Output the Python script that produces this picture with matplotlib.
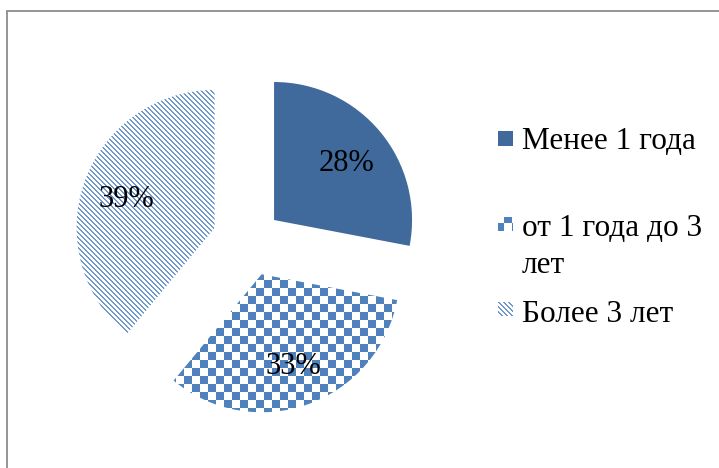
import numpy as np
import matplotlib
matplotlib.use("Agg")
import matplotlib.pyplot as plt
from matplotlib.patches import Rectangle

# Stazh categories and their shares (%)
labels = ["Менее 1 года", "от 1 года до 3\nлет", "Более 3 лет"]
shares = [28, 33, 39]

W, H = 719, 468
SOLID = "#40699C"
BLUE = "#4F81BD"
STRIPE = "#7099CD"

plt.rcParams["font.family"] = ["Liberation Serif", "DejaVu Serif"]

fig = plt.figure(figsize=(W / 100, H / 100), dpi=100)
ax = fig.add_axes([0, 0, 1, 1])

# pixel-grid fill patterns (rows run top to bottom)
rows, cols = np.mgrid[0:H, 0:W]
white = np.array([1.0, 1.0, 1.0, 1.0])

def rgba(hexcolor):
    return np.array(matplotlib.colors.to_rgba(hexcolor))

checker = np.where((((rows // 8) + (cols // 8)) % 2 == 0)[..., None], rgba(BLUE), white)
stripes = np.where((((cols - rows) % 5) < 2)[..., None], rgba(STRIPE), white)

wedges, texts, autotexts = ax.pie(
    shares,
    center=(249.4, H - 240.4),
    radius=138,
    explode=[32, 36, 37],
    startangle=90,
    counterclock=False,
    colors=[SOLID, "none", "none"],
    autopct=lambda p: f"{p:.0f}%",
    pctdistance=0.68,
    wedgeprops=dict(linewidth=0),
    textprops=dict(fontsize=22, color="black"),
)

def fill_pattern(patch, pattern):
    im = ax.imshow(pattern, extent=(0, W, 0, H), origin="upper",
                   interpolation="nearest", zorder=patch.get_zorder() - 0.1)
    im.set_clip_path(patch)

fill_pattern(wedges[1], checker)
fill_pattern(wedges[2], stripes)
for t in autotexts:
    t.set_zorder(5)
    t.set_va("center_baseline")

# legend on the right, drawn in pixel coordinates
baselines = [149, 236, 322]
marker_y = [138, 224, 309]
fills = [None, checker, stripes]
for lab, base, my, pat in zip(labels, baselines, marker_y, fills):
    box = Rectangle((498, H - my - 7.5), 15, 15, linewidth=0,
                    facecolor=SOLID if pat is None else "none")
    ax.add_patch(box)
    if pat is not None:
        fill_pattern(box, pat)
    for i, line in enumerate(lab.split("\n")):
        ax.text(522, H - (base + 37 * i), line, fontsize=22.5,
                ha="left", va="baseline")

# chart frame
ax.plot([6.5, 6.5, W + 5], [-5, H - 10.5, H - 10.5], color="#8C8C8C",
        linewidth=1.3, solid_joinstyle="miter")

ax.set_xlim(0, W)
ax.set_ylim(0, H)
ax.set_aspect("equal")
ax.axis("off")

fig.savefig("out.png", dpi=100)
